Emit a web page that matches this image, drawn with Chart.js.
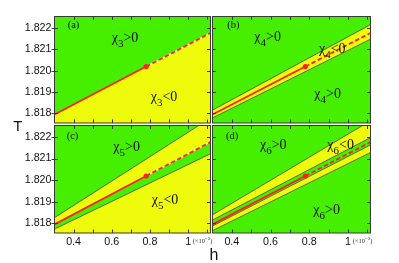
<!DOCTYPE html>
<html><head><meta charset="utf-8">
<script src="https://cdn.jsdelivr.net/npm/chart.js@4.4.1/dist/chart.umd.min.js"></script>
<style>
html,body{margin:0;padding:0;background:#fff;}
#wrap{position:relative;width:399px;height:263px;overflow:hidden;background:#fff;}
canvas{position:absolute;left:0;top:0;}
.t{position:absolute;white-space:nowrap;line-height:1;color:#111;z-index:5;}
.chi{font-family:"Liberation Serif","Times New Roman",serif;font-size:14px;}
.chi sub{font-size:11px;vertical-align:-5px;line-height:0;}
.pl{font-family:"Liberation Serif","Times New Roman",serif;font-size:10.5px;}
.mult{font-family:"Liberation Serif","Times New Roman",serif;font-size:6.5px;color:#333;}
.mult sup{font-size:5px;vertical-align:3px;line-height:0;}
.ax{font-family:"Liberation Sans",Arial,sans-serif;}
</style></head>
<body><div id="wrap">
<canvas id="ca" width="399" height="263"></canvas>
<canvas id="cb" width="399" height="263"></canvas>
<canvas id="cc" width="399" height="263"></canvas>
<canvas id="cd" width="399" height="263"></canvas>

<div class="t pl" style="left:67.7px;top:19.8px">(a)</div>
<div class="t pl" style="left:227.3px;top:19.8px">(b)</div>
<div class="t pl" style="left:66.7px;top:130.6px">(c)</div>
<div class="t pl" style="left:226px;top:130.6px">(d)</div>

<div class="t chi" style="left:111.7px;top:31px">χ<sub>3</sub>&gt;0</div>
<div class="t chi" style="left:150.7px;top:90px">χ<sub>3</sub>&lt;0</div>
<div class="t chi" style="left:254.3px;top:30px">χ<sub>4</sub>&gt;0</div>
<div class="t chi" style="left:319px;top:41.6px">χ<sub>4</sub>&lt;0</div>
<div class="t chi" style="left:314.3px;top:86.6px">χ<sub>4</sub>&gt;0</div>
<div class="t chi" style="left:113.3px;top:140px">χ<sub>5</sub>&gt;0</div>
<div class="t chi" style="left:151.7px;top:192.6px">χ<sub>5</sub>&lt;0</div>
<div class="t chi" style="left:260px;top:138.3px">χ<sub>6</sub>&gt;0</div>
<div class="t chi" style="left:327.3px;top:138.3px">χ<sub>6</sub>&lt;0</div>
<div class="t chi" style="left:313.3px;top:202.6px">χ<sub>6</sub>&gt;0</div>

<div class="t mult" style="left:192.7px;top:238px">(×10<sup>−3</sup>)</div>
<div class="t mult" style="left:352.7px;top:238px">(×10<sup>−3</sup>)</div>

<div class="t ax" style="left:13.3px;top:118.3px;font-size:15px">T</div>
<div class="t ax" style="left:209.5px;top:246.5px;font-size:16px">h</div>
</div>
<script>
// ---- axis ranges and ticks ----
const hMin = 0.3, hMax = 1.117;
const tMin = 1.81755, tMax = 1.82253;
const hTickValues = [0.3, 0.4, 0.5, 0.6, 0.7, 0.8, 0.9, 1.0, 1.1];
const hTickLabels = ['', '0.4', '', '0.6', '', '0.8', '', '1', ''];
const tTickValues = [1.818, 1.819, 1.820, 1.821, 1.822];
const tTickLabels = ['1.818', '1.819', '1.820', '1.821', '1.822'];

// ---- data (line end points) ----
const hEnds = [0.3, 1.117];
const redH = [0.3, 0.78, 1.117];          // solid up to the dot, dashed after
const redT = [1.81795, 1.82019, 1.82176];
const bUpperT = [1.81815, 1.82215];
const bLowerT = [1.81779, 1.82147];
const cUpperT = [1.81826, 1.82288];
const cLowerT = [1.81773, 1.82122];
const dOuterUpperT = [1.81839, 1.82275];
const dInnerUpperT = [1.81815, 1.82197];
const dInnerLowerT = [1.81787, 1.82163];
const dOuterLowerT = [1.81766, 1.82128];

const GREEN = '#46ee00', YELLOW = '#eefc0c', RED = '#ff2020', EDGE = '#4a4a4a';

const pts = (hs, ts) => hs.map((h, i) => ({x: h, y: ts[i]}));

const fillDs = (hs, ts, color, order) => ({
  data: pts(hs, ts), fill: 'start', backgroundColor: color,
  borderColor: 'transparent', borderWidth: 0, pointRadius: 0, order, clip: 0
});
const edgeDs = (ts) => ({
  data: pts(hEnds, ts), fill: false, borderColor: EDGE, borderWidth: 0.8,
  pointRadius: 0, order: 2, clip: 0
});
const redDs = () => ({
  data: pts(redH, redT), fill: false, borderColor: RED, borderWidth: 1.8,
  pointRadius: [0, 2.6, 0], pointBackgroundColor: RED, pointBorderWidth: 0,
  order: 0, clip: 0,
  segment: {borderDash: c => c.p0DataIndex >= 1 ? [4.5, 2.5] : undefined}
});
const underlayDs = () => ({
  data: pts(redH.slice(1), redT.slice(1)), fill: false,
  borderColor: 'rgba(255,255,255,0.6)', borderWidth: 1.6, pointRadius: 0, order: 1, clip: 0
});

const bgPlugin = {
  id: 'bg',
  beforeDatasetsDraw(chart) {
    const {ctx, chartArea: a} = chart;
    ctx.save(); ctx.fillStyle = GREEN;
    ctx.fillRect(a.left, a.top, a.right - a.left, a.bottom - a.top);
    ctx.restore();
  }
};
const framePlugin = {
  id: 'frame',
  afterDatasetsDraw(chart) {
    const {ctx, chartArea: a, scales: {x, y}} = chart;
    const L = 3.5;
    ctx.save();
    ctx.strokeStyle = '#3a3a3a'; ctx.lineWidth = 1;
    ctx.beginPath();
    hTickValues.forEach(v => {
      const px = Math.round(x.getPixelForValue(v)) + 0.5;
      if (px <= a.left + 1 || px >= a.right - 1) return;
      ctx.moveTo(px, a.top); ctx.lineTo(px, a.top + L);
      ctx.moveTo(px, a.bottom); ctx.lineTo(px, a.bottom - L);
    });
    tTickValues.forEach(v => {
      const py = Math.round(y.getPixelForValue(v)) + 0.5;
      ctx.moveTo(a.left, py); ctx.lineTo(a.left + L, py);
      ctx.moveTo(a.right, py); ctx.lineTo(a.right - L, py);
      if (chart.options.plugins.frame.outLeft) { ctx.moveTo(a.left - 3, py); ctx.lineTo(a.left, py); }
    });
    ctx.stroke();
    ctx.strokeRect(a.left, a.top, a.right - a.left, a.bottom - a.top);
    ctx.restore();
  }
};

function makePanel(id, datasets, showX, showY, pad) {
  return new Chart(document.getElementById(id), {
    type: 'line',
    data: {datasets},
    plugins: [bgPlugin, framePlugin],
    options: {
      responsive: false, animation: false, devicePixelRatio: 1, events: [],
      layout: {padding: pad},
      plugins: {legend: {display: false}, tooltip: {enabled: false}, frame: {outLeft: showY}},
      scales: {
        x: {
          type: 'linear', min: hMin, max: hMax,
          afterBuildTicks: s => { s.ticks = hTickValues.map(v => ({value: v})); },
          afterFit: s => { s.height = showX ? 20 : 0; },
          grid: {display: false, drawTicks: false}, border: {display: false},
          ticks: {display: showX, autoSkip: false, maxRotation: 0, padding: 3, color: '#111',
                  font: {family: 'Liberation Sans', size: 10.7},
                  callback: (v, i) => hTickLabels[i]}
        },
        y: {
          type: 'linear', min: tMin, max: tMax,
          afterBuildTicks: s => { s.ticks = tTickValues.map(v => ({value: v})); },
          afterFit: s => { s.width = showY ? 40 : 0; },
          grid: {display: false, drawTicks: false}, border: {display: false},
          ticks: {display: showY, autoSkip: false, padding: 3, color: '#111',
                  font: {family: 'Liberation Sans', size: 10.7},
                  callback: (v, i) => tTickLabels[i]}
        }
      }
    }
  });
}

// (a)
makePanel('ca', [
  fillDs(redH, redT, YELLOW, 5),
  underlayDs(), redDs()
], false, true, {left: 14.5, right: 188.5, top: 16.5, bottom: 140});

// (b)
makePanel('cb', [
  fillDs(hEnds, bUpperT, YELLOW, 6),
  fillDs(hEnds, bLowerT, GREEN, 5),
  edgeDs(bUpperT), edgeDs(bLowerT), redDs()
], false, false, {left: 212.5, right: 28.5, top: 16.5, bottom: 140});

// (c)
makePanel('cc', [
  fillDs(hEnds, cUpperT, YELLOW, 7),
  fillDs(redH, redT, GREEN, 6),
  fillDs(hEnds, cLowerT, YELLOW, 5),
  edgeDs(cUpperT), edgeDs(cLowerT), underlayDs(), redDs()
], true, true, {left: 14.5, right: 188.5, top: 125.5, bottom: 10});

// (d)
makePanel('cd', [
  fillDs(hEnds, dOuterUpperT, YELLOW, 8),
  fillDs(hEnds, dInnerUpperT, GREEN, 7),
  fillDs(hEnds, dInnerLowerT, YELLOW, 6),
  fillDs(hEnds, dOuterLowerT, GREEN, 5),
  edgeDs(dOuterUpperT), edgeDs(dInnerUpperT), edgeDs(dInnerLowerT), edgeDs(dOuterLowerT),
  redDs()
], true, false, {left: 212.5, right: 28.5, top: 125.5, bottom: 10});
</script>
</body></html>
